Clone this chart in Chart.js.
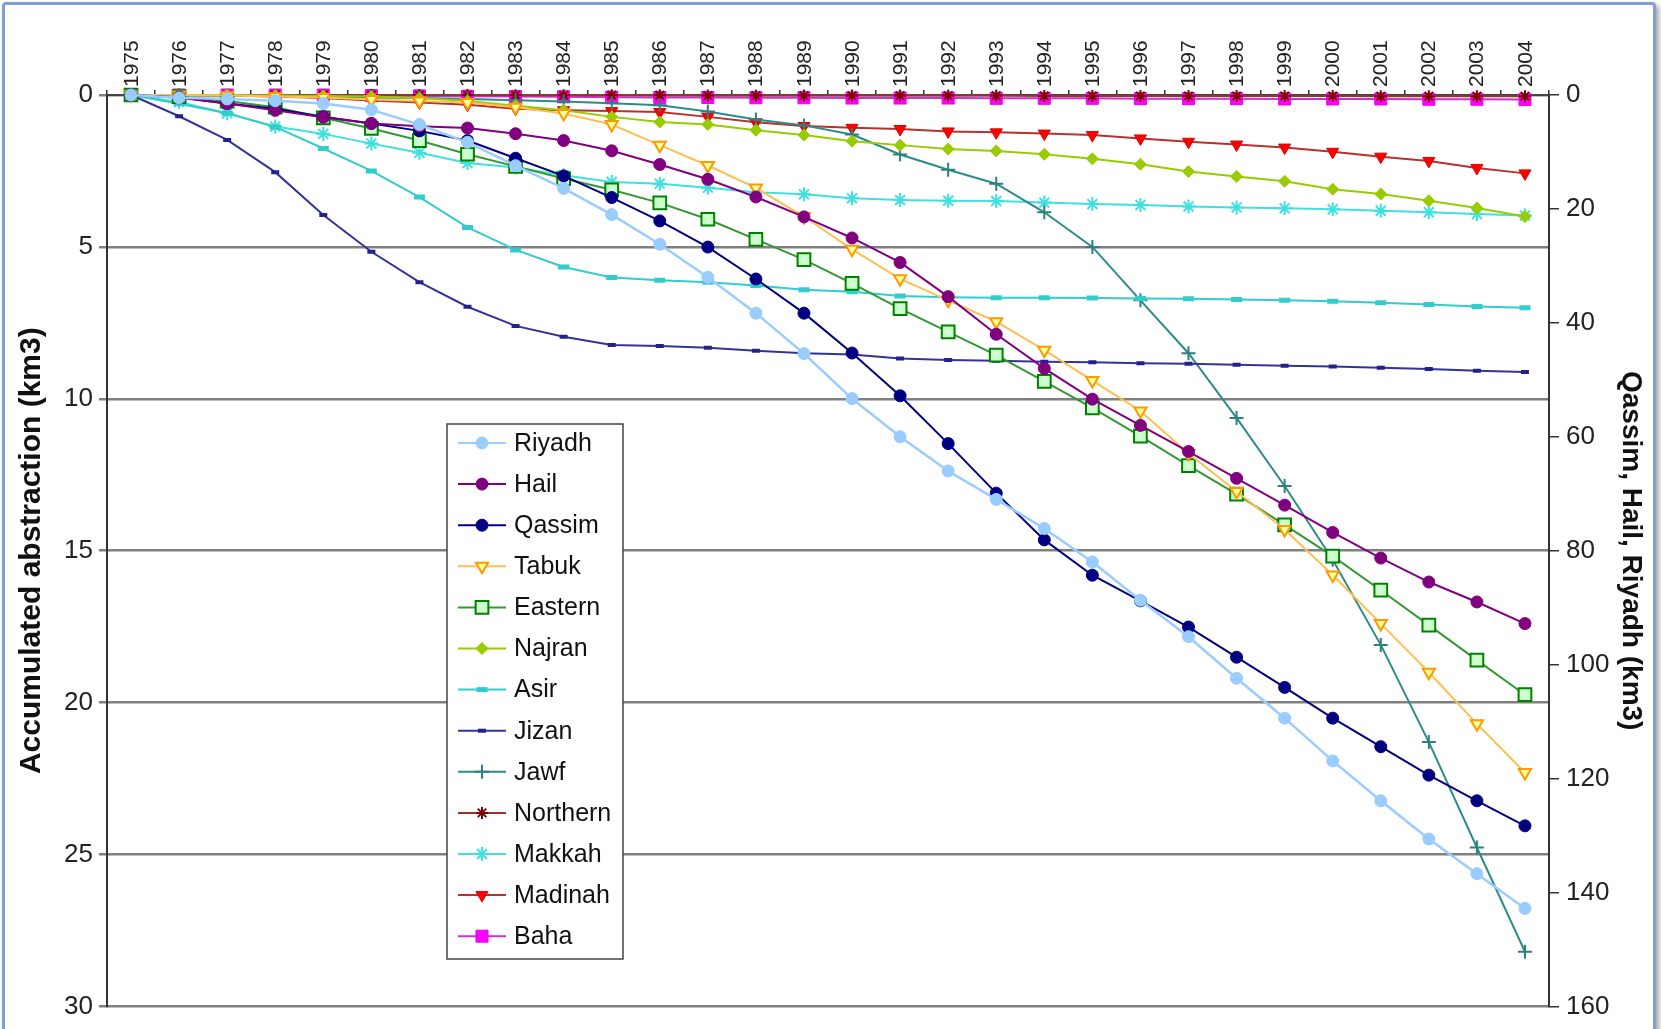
<!DOCTYPE html>
<html>
<head>
<meta charset="utf-8">
<script src="https://cdn.jsdelivr.net/npm/chart.js@4.4.1/dist/chart.umd.min.js"></script>
<style>
  html, body { margin: 0; padding: 0; background: #fff; overflow: hidden; }
  #wrap { position: relative; width: 1661px; height: 1029px; }
  #chart { position: absolute; left: 0; top: 0; }
  #frame {
    position: absolute; left: 2px; top: 2px; width: 1648px; height: 1080px;
    border: 3px solid #7f9fd6; border-radius: 4px;
    box-shadow: 3px 3px 5px rgba(0, 0, 0, 0.35); pointer-events: none;
  }
</style>
</head>
<body>
<div id="wrap">
  <canvas id="chart" width="1661" height="1029"></canvas>
  <div id="frame"></div>
</div>
<script>
const FONT = "'Liberation Sans', Arial, sans-serif";

const years = ["1975", "1976", "1977", "1978", "1979", "1980", "1981", "1982", "1983", "1984",
  "1985", "1986", "1987", "1988", "1989", "1990", "1991", "1992", "1993", "1994",
  "1995", "1996", "1997", "1998", "1999", "2000", "2001", "2002", "2003", "2004"];

// right axis (km3): Qassim, Hail, Riyadh
const riyadh = [0, 0.5, 0.7, 1.0, 1.5, 2.6, 5.2, 8.3, 12.4, 16.4,
  21.0, 26.2, 32.0, 38.3, 45.4, 53.3, 60.0, 66.0, 71.0, 76.1,
  82.0, 88.7, 95.1, 102.4, 109.4, 116.9, 123.9, 130.6, 136.7, 142.8];
const hail = [0, 0.5, 1.5, 2.7, 3.9, 5.0, 5.5, 5.8, 6.8, 8.0,
  9.8, 12.2, 14.8, 17.9, 21.4, 25.1, 29.4, 35.4, 42.0, 48.0,
  53.4, 58.0, 62.6, 67.3, 72.0, 76.8, 81.3, 85.5, 89.0, 92.8];
const qassim = [0, 0.4, 1.5, 2.4, 3.8, 5.0, 6.3, 8.0, 11.1, 14.2,
  18.0, 22.1, 26.7, 32.3, 38.3, 45.3, 52.8, 61.2, 69.9, 78.1,
  84.3, 88.8, 93.4, 98.7, 104.0, 109.4, 114.4, 119.4, 123.9, 128.3];

// left axis (km3)
const tabuk = [0, 0, 0.02, 0.05, 0.08, 0.15, 0.2, 0.25, 0.4, 0.61,
  0.97, 1.65, 2.32, 3.06, 4.0, 5.08, 6.05, 6.76, 7.46, 8.4,
  9.4, 10.4, 11.8, 13.05, 14.3, 15.8, 17.4, 19.0, 20.7, 22.3];
const eastern = [0, 0.05, 0.2, 0.4, 0.75, 1.1, 1.5, 1.95, 2.35, 2.75,
  3.12, 3.55, 4.09, 4.75, 5.42, 6.2, 7.03, 7.8, 8.56, 9.43,
  10.3, 11.23, 12.2, 13.14, 14.15, 15.18, 16.3, 17.45, 18.6, 19.74];
const najran = [0, 0, 0, 0.02, 0.03, 0.05, 0.1, 0.2, 0.35, 0.5,
  0.72, 0.89, 0.97, 1.16, 1.32, 1.52, 1.65, 1.78, 1.84, 1.95,
  2.1, 2.28, 2.52, 2.68, 2.84, 3.1, 3.26, 3.48, 3.72, 4.0];
const asir = [0, 0.29, 0.6, 1.05, 1.76, 2.5, 3.36, 4.36, 5.1, 5.66,
  6.01, 6.1, 6.16, 6.27, 6.41, 6.48, 6.62, 6.66, 6.67, 6.67,
  6.68, 6.7, 6.71, 6.73, 6.76, 6.79, 6.84, 6.9, 6.96, 7.0];
const jizan = [0, 0.7, 1.48, 2.54, 3.95, 5.16, 6.16, 6.97, 7.6, 7.96,
  8.23, 8.26, 8.32, 8.42, 8.5, 8.54, 8.67, 8.72, 8.75, 8.78,
  8.8, 8.83, 8.85, 8.88, 8.91, 8.94, 8.98, 9.02, 9.08, 9.12];
const jawf = [0, 0.01, 0.02, 0.04, 0.06, 0.08, 0.1, 0.13, 0.17, 0.21,
  0.27, 0.34, 0.54, 0.81, 1.0, 1.3, 1.96, 2.46, 2.92, 3.86,
  5.0, 6.76, 8.5, 10.63, 12.87, 15.3, 18.1, 21.3, 24.77, 28.2];
const northern = [0, 0, 0, 0, 0, 0, 0, 0, 0.01, 0.01,
  0.01, 0.01, 0.02, 0.02, 0.02, 0.02, 0.02, 0.02, 0.02, 0.03,
  0.03, 0.03, 0.03, 0.03, 0.03, 0.03, 0.04, 0.04, 0.04, 0.04];
const makkah = [0, 0.23, 0.6, 1.04, 1.28, 1.6, 1.9, 2.24, 2.39, 2.64,
  2.86, 2.92, 3.05, 3.2, 3.27, 3.4, 3.46, 3.48, 3.49, 3.54,
  3.59, 3.62, 3.67, 3.7, 3.73, 3.76, 3.81, 3.86, 3.92, 3.97];
const madinah = [0, 0, 0.02, 0.05, 0.1, 0.18, 0.25, 0.32, 0.45, 0.5,
  0.53, 0.56, 0.72, 0.9, 1.02, 1.08, 1.12, 1.2, 1.23, 1.27,
  1.32, 1.43, 1.54, 1.63, 1.73, 1.87, 2.03, 2.17, 2.4, 2.58];
const baha = [0, 0, 0, 0, 0, 0.02, 0.03, 0.04, 0.05, 0.06,
  0.07, 0.08, 0.08, 0.09, 0.09, 0.1, 0.1, 0.1, 0.11, 0.11,
  0.11, 0.12, 0.12, 0.12, 0.13, 0.13, 0.13, 0.14, 0.14, 0.15];

const leftTicks = [0, 5, 10, 15, 20, 25, 30];
const rightTicks = [0, 20, 40, 60, 80, 100, 120, 140, 160];

function series(label, data, axis, line, style) {
  return Object.assign({
    label: label,
    data: data,
    yAxisID: axis,
    borderColor: line,
    borderWidth: 2,
    tension: 0,
    clip: 14,
    pointBorderWidth: 1,
    pointRotation: 0,
  }, style);
}

const datasets = [
  series("Riyadh", riyadh, "y1", "#99ccff", { pointStyle: "circle", pointRadius: 6, pointBackgroundColor: "#99ccff", pointBorderColor: "#99ccff", borderWidth: 2.5 }),
  series("Hail", hail, "y1", "#800080", { pointStyle: "circle", pointRadius: 6, pointBackgroundColor: "#800080", pointBorderColor: "#800080" }),
  series("Qassim", qassim, "y1", "#000080", { pointStyle: "circle", pointRadius: 6, pointBackgroundColor: "#000080", pointBorderColor: "#000080" }),
  series("Tabuk", tabuk, "y", "#ffbf50", { pointStyle: "triangle", pointRotation: 180, pointRadius: 7, pointBackgroundColor: "#ffff99", pointBorderColor: "#ff9900", pointBorderWidth: 2 }),
  series("Eastern", eastern, "y", "#339933", { pointStyle: "rect", pointRadius: 9, pointBackgroundColor: "#ccffcc", pointBorderColor: "#008000", pointBorderWidth: 2 }),
  series("Najran", najran, "y", "#99cc00", { pointStyle: "rectRot", pointRadius: 6, pointBackgroundColor: "#99cc00", pointBorderColor: "#99cc00" }),
  series("Asir", asir, "y", "#33cccc", { pointStyle: "line", pointRadius: 5.5, pointBackgroundColor: "#33cccc", pointBorderColor: "#33cccc", pointBorderWidth: 5 }),
  series("Jizan", jizan, "y", "#333399", { pointStyle: "line", pointRadius: 4, pointBackgroundColor: "#22228a", pointBorderColor: "#22228a", pointBorderWidth: 4 }),
  series("Jawf", jawf, "y", "#2e8b8b", { pointStyle: "cross", pointRadius: 7, pointBackgroundColor: "#2e8b8b", pointBorderColor: "#2e7f7f", pointBorderWidth: 2 }),
  series("Northern", northern, "y", "#993333", { pointStyle: "star", pointRadius: 6, pointBackgroundColor: "#800000", pointBorderColor: "#800000", pointBorderWidth: 2 }),
  series("Makkah", makkah, "y", "#40e0e0", { pointStyle: "star", pointRadius: 7, pointBackgroundColor: "#40e0e0", pointBorderColor: "#40e0e0", pointBorderWidth: 2 }),
  series("Madinah", madinah, "y", "#b83030", { pointStyle: "triangle", pointRotation: 180, pointRadius: 7, pointBackgroundColor: "#ff0000", pointBorderColor: "#e00000" }),
  series("Baha", baha, "y", "#cc33cc", { pointStyle: "rect", pointRadius: 8.5, pointBackgroundColor: "#ff00ff", pointBorderColor: "#ee00ee" }),
];

// legend box inside the plot, drawn by hand
const boxLegend = {
  id: "boxLegend",
  afterDraw(chart) {
    const ctx = chart.ctx;
    const x = 447, y = 424, w = 176, h = 535;
    ctx.save();
    ctx.fillStyle = "#fff";
    ctx.fillRect(x, y, w, h);
    ctx.strokeStyle = "#444";
    ctx.lineWidth = 1.5;
    ctx.strokeRect(x, y, w, h);
    chart.data.datasets.forEach((ds, i) => {
      const cy = y + 19 + i * 41.1;
      ctx.strokeStyle = ds.borderColor;
      ctx.lineWidth = 2;
      ctx.beginPath();
      ctx.moveTo(x + 11, cy);
      ctx.lineTo(x + 59, cy);
      ctx.stroke();
      ctx.fillStyle = ds.pointBackgroundColor;
      ctx.strokeStyle = ds.pointBorderColor;
      ctx.lineWidth = ds.pointBorderWidth;
      Chart.helpers.drawPoint(ctx, {
        pointStyle: ds.pointStyle,
        rotation: ds.pointRotation,
        radius: ds.pointRadius,
        borderWidth: ds.pointBorderWidth,
      }, x + 35, cy);
      ctx.fillStyle = "#111";
      ctx.font = "25px " + FONT;
      ctx.textBaseline = "middle";
      ctx.textAlign = "left";
      ctx.fillText(ds.label, x + 67, cy + 1);
    });
    ctx.restore();
  },
};

const whiteBg = {
  id: "whiteBg",
  beforeDraw(chart) {
    const ctx = chart.ctx;
    ctx.save();
    ctx.fillStyle = "#fff";
    ctx.fillRect(0, 0, chart.width, chart.height);
    ctx.restore();
  },
};

new Chart(document.getElementById("chart").getContext("2d"), {
  type: "line",
  data: { labels: years, datasets: datasets },
  plugins: [whiteBg, boxLegend],
  options: {
    responsive: false,
    animation: false,
    layout: { padding: { top: 0, left: 0, right: 0, bottom: 16 } },
    plugins: { legend: { display: false }, tooltip: { enabled: false } },
    scales: {
      x: {
        type: "category",
        position: "top",
        offset: true,
        grid: { offset: true, drawOnChartArea: false, drawTicks: true, tickLength: 5, color: "#333", lineWidth: 1.5 },
        border: { display: true, color: "#444", width: 2 },
        ticks: { minRotation: 90, maxRotation: 90, autoSkip: false, padding: 3, labelOffset: 26, color: "#222", font: { size: 21, family: FONT } },
        afterFit: (s) => { s.height = 95; },
      },
      y: {
        position: "left",
        reverse: true,
        min: leftTicks[0],
        max: leftTicks[leftTicks.length - 1],
        afterBuildTicks: (s) => { s.ticks = leftTicks.map((v) => ({ value: v })); },
        ticks: { padding: 6, color: "#222", font: { size: 26, family: FONT } },
        grid: { color: "#808080", lineWidth: 2.5, tickLength: 8 },
        border: { display: true, color: "#333", width: 2 },
        title: {
          display: true,
          text: "Accumulated abstraction (km3)",
          color: "#111",
          font: { size: 30, weight: "bold", family: FONT },
          padding: { top: 14, bottom: 0 },
        },
        afterFit: (s) => { s.width = 107; },
      },
      y1: {
        position: "right",
        reverse: true,
        min: rightTicks[0],
        max: rightTicks[rightTicks.length - 1],
        afterBuildTicks: (s) => { s.ticks = rightTicks.map((v) => ({ value: v })); },
        ticks: { padding: 7, color: "#222", font: { size: 26, family: FONT } },
        grid: { drawOnChartArea: false, tickLength: 10, color: "#333", lineWidth: 1.5 },
        border: { display: true, color: "#333", width: 2 },
        title: {
          display: true,
          text: "Qassim, Hail, Riyadh (km3)",
          color: "#111",
          font: { size: 28, weight: "bold", family: FONT },
          padding: { top: 13, bottom: 0 },
        },
        afterFit: (s) => { s.width = 112; },
      },
    },
  },
});
</script>
</body>
</html>
